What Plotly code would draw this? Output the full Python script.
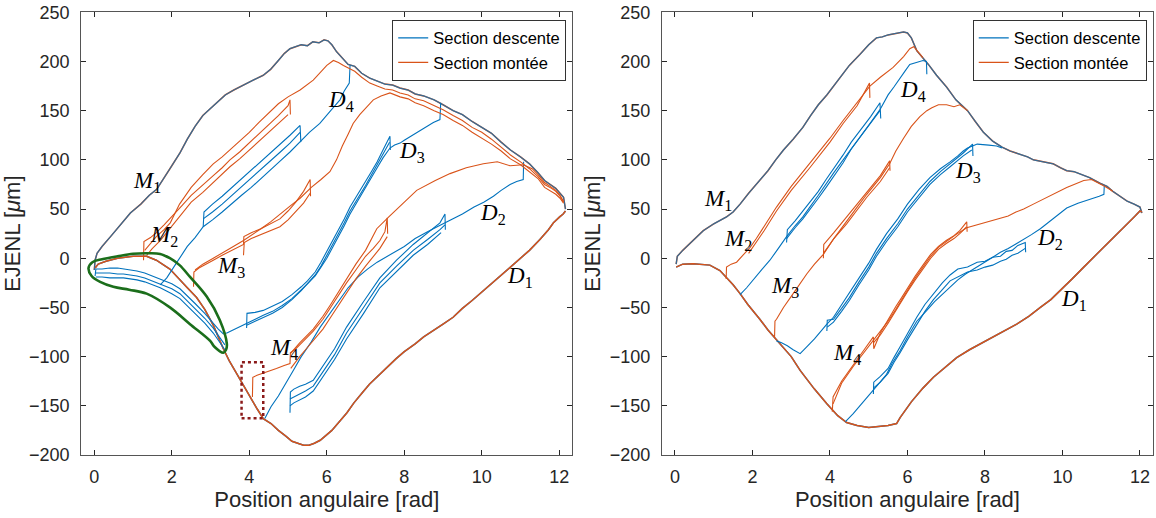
import plotly.graph_objects as go

# ---------------- LEFT PANEL DATA ----------------
L_UP_X = [0.0, 0.02, 0.07, 0.2, 0.44, 0.7, 0.93, 1.2, 1.42, 1.61, 1.81, 2.0, 2.21, 2.4, 2.6, 2.8, 2.99, 3.2, 3.38, 3.6, 3.87, 4.1, 4.36, 4.55, 4.75, 4.9, 5.05, 5.2, 5.34, 5.5, 5.64, 5.8, 5.93, 6.03, 6.13, 6.25, 6.42, 6.55, 6.72, 6.9, 7.11, 7.3, 7.5, 7.7, 7.89, 8.1, 8.28, 8.5, 8.77, 9.0, 9.26, 9.5, 9.75, 10.0, 10.25, 10.5, 10.74, 11.0, 11.23, 11.45, 11.62, 11.8, 11.91, 12.02, 12.11, 12.16]
L_UP_Y = [-12, -2, 5, 12, 23, 35, 46, 55, 64, 70, 83, 94, 107, 121, 134, 145, 152, 160, 166, 171, 176, 181, 186, 192, 201, 208, 213, 215, 217, 216, 220, 219, 222, 221, 217, 210, 203, 197, 195, 188, 183, 180, 177, 176, 173, 171, 167, 165, 161, 156, 150, 146, 139, 133, 127, 118, 110, 103, 96, 87, 79, 74, 71, 66, 62, 50]

L_LOW_X = [12.16, 12.1, 12.01, 11.85, 11.72, 11.5, 11.23, 11.0, 10.74, 10.5, 10.25, 10.0, 9.75, 9.5, 9.26, 9.0, 8.77, 8.5, 8.28, 8.0, 7.79, 7.55, 7.3, 7.1, 6.91, 6.7, 6.52, 6.3, 6.13, 5.98, 5.83, 5.68, 5.54, 5.4, 5.25, 5.1, 4.95, 4.75, 4.56, 4.36, 4.2, 4.07, 3.9, 3.77, 3.6, 3.48, 3.33, 3.2, 3.07, 2.85, 2.64, 2.4, 2.21, 1.95, 1.6, 1.35, 1.0, 0.6, 0.3, 0.1, 0.02]
L_LOW_Y = [48, 45, 42, 36, 29, 19, 8, 0, -9, -17, -26, -34, -43, -51, -60, -67, -73, -80, -87, -95, -102, -111, -120, -128, -137, -147, -157, -167, -175, -180, -185, -188, -190, -190, -188, -186, -181, -175, -168, -163, -153, -144, -133, -124, -112, -104, -92, -80, -68, -52, -40, -30, -22, -11, -2, 2, 2, 0, -3, -6, -10]

L_G1_X = [3.42, 3.33, 3.2, 3.07, 2.85, 2.6, 2.4, 2.21, 2.0, 1.7, 1.5, 1.3, 1.1, 0.92, 0.75, 0.6, 0.4, 0.2, 0.04, 0.02]
L_G1_Y = [-76, -77, -72, -66, -56, -46, -38, -31, -26, -21, -18, -15, -13, -12, -11, -10, -10, -11, -11, -18]
L_G2_X = [3.37, 3.2, 3.07, 2.85, 2.6, 2.4, 2.21, 2.0, 1.7, 1.5, 1.3, 1.1, 0.92, 0.75, 0.6, 0.4, 0.2, 0.04]
L_G2_Y = [-88, -78, -71, -61, -51, -43, -36, -31, -26, -23, -20, -18, -17, -16, -16, -15, -15, -15]
L_G3_X = [3.37, 3.2, 3.07, 2.85, 2.6, 2.4, 2.21, 2.0, 1.7, 1.5, 1.3, 1.1, 0.92, 0.75, 0.6, 0.4, 0.2, 0.04]
L_G3_Y = [-93, -83, -76, -66, -56, -48, -41, -36, -30, -27, -24, -22, -21, -20, -20, -20, -19, -19]

L_D4_X = [6.60, 6.58, 6.45, 6.34, 6.1, 5.82, 5.55, 5.31, 5.05, 4.8, 4.55, 4.28, 4.05, 3.8, 3.55, 3.3, 3.05, 2.81, 2.6, 2.4, 2.1, 1.87, 1.7]
L_D4_Y = [196, 178, 170, 161, 150, 137, 128, 118, 108, 99, 90, 81, 72, 64, 55, 47, 39, 32, 21, 12, -6, -20, -27]
L_D4A_X = [5.33, 5.31, 5.05, 4.8, 4.55, 4.28, 4.05, 3.8, 3.55, 3.3, 3.05, 2.83, 2.81]
L_D4A_Y = [118, 135, 125, 116, 107, 98, 89, 80, 71, 63, 55, 47, 32]
L_D4B_X = [5.31, 5.05, 4.8, 4.55, 4.28, 4.05, 3.8, 3.55, 3.3, 3.05, 2.81]
L_D4B_Y = [128, 117, 108, 99, 90, 81, 72, 63, 55, 47, 40]

L_M2A_X = [1.27, 1.28, 1.45, 1.6, 1.8, 2.0, 2.25, 2.5, 2.8, 3.07, 3.3, 3.5, 3.75, 4.0, 4.25, 4.5, 4.75, 5.0, 5.05, 5.06]
L_M2A_Y = [-2, 17, 21, 26, 34, 42, 53, 64, 74, 84, 92, 100, 108, 117, 126, 136, 145, 155, 161, 146]
L_M2B_X = [1.35, 1.5, 1.7, 2.0, 2.25, 2.5, 2.8, 3.07, 3.3, 3.5, 3.75, 4.0, 4.25, 4.5, 4.75, 5.0]
L_M2B_Y = [3, 10, 18, 33, 45, 57, 67, 77, 85, 93, 101, 110, 119, 128, 137, 146]
L_M2C_X = [1.3, 1.45, 1.6, 1.8, 1.96, 2.2, 2.5, 2.8, 3.07, 3.3, 3.5, 3.75, 4.0, 4.25, 4.5, 4.75, 5.0, 5.31, 5.65, 5.85, 6.0, 6.17, 6.3, 6.43, 6.72, 6.9, 7.11, 7.3, 7.5, 7.7, 7.89, 8.1, 8.28, 8.5, 8.77, 9.0, 9.26, 9.5, 9.75, 10.0, 10.25, 10.5, 10.74, 11.0, 11.23, 11.45, 11.62, 11.8, 11.91, 12.02, 12.11]
L_M2C_Y = [8, 15, 22, 29, 36, 55, 72, 85, 96, 103, 110, 119, 128, 138, 148, 157, 164, 171, 181, 190, 196, 201, 199, 196, 190, 184, 178, 175, 172, 171, 168, 166, 162, 160, 155, 151, 145, 140, 133, 128, 121, 113, 105, 98, 91, 83, 75, 71, 68, 63, 58]

L_M3A_X = [2.56, 2.57, 2.7, 2.8, 3.07, 3.3, 3.5, 3.7, 3.85, 3.86, 4.05, 4.3, 4.55, 4.79, 5.0, 5.2, 5.4, 5.57, 5.58]
L_M3A_Y = [-29, -14, -10, -8, -2, 3, 7, 11, 14, 22, 26, 30, 35, 40, 48, 57, 68, 80, 63]
L_M3B_X = [3.85, 3.87, 4.05, 4.3, 4.55, 4.79, 5.0, 5.2, 5.4, 5.57]
L_M3B_Y = [3, 16, 20, 24, 28, 32, 39, 47, 56, 66]
L_M3C_X = [2.6, 2.8, 3.07, 3.3, 3.5, 3.85, 4.05, 4.3, 4.55, 4.79, 5.05, 5.31, 5.6, 5.85, 6.08, 6.25, 6.4, 6.55, 6.68, 6.85, 7.0, 7.2, 7.4, 7.63, 7.89, 8.1, 8.28, 8.5, 8.77, 9.0, 9.26, 9.5, 9.75, 10.0, 10.25, 10.5, 10.74, 11.0, 11.23, 11.45, 11.62, 11.8, 11.91, 12.02, 12.11]
L_M3C_Y = [-12, -6, 0, 5, 10, 18, 23, 30, 37, 45, 53, 61, 72, 80, 88, 100, 114, 126, 137, 146, 152, 161, 165, 168, 164, 162, 158, 155, 150, 146, 140, 135, 128, 122, 116, 109, 101, 95, 88, 81, 72, 68, 65, 61, 56]

L_M4A_X = [4.08, 4.09, 4.2, 4.36, 4.55, 4.7, 4.9, 5.05, 5.06, 5.2, 5.3, 5.45, 5.65, 5.9, 6.1, 6.3, 6.51, 6.75, 7.0, 7.2, 7.37, 7.5, 7.56, 7.57]
L_M4A_Y = [-141, -121, -119, -117, -114, -112, -109, -107, -96, -92, -88, -82, -74, -62, -50, -38, -25, -12, 2, 10, 18, 27, 41, 25]
L_M4B_X = [5.07, 5.2, 5.3, 5.45, 5.65, 5.9, 6.1, 6.3, 6.51, 6.75, 7.0, 7.2, 7.37, 7.56]
L_M4B_Y = [-112, -105, -100, -93, -84, -72, -60, -48, -35, -21, -8, 2, 10, 22]
L_M4C_X = [5.06, 5.3, 5.65, 5.9, 6.1, 6.3, 6.51, 6.75, 7.0, 7.29, 7.6, 8.0, 8.32, 8.8, 9.18, 9.6, 10.04, 10.4, 10.73, 11.07, 11.3, 11.45, 11.62, 11.8, 11.91, 12.02, 12.11]
L_M4C_Y = [-97, -86, -72, -59, -47, -34, -21, -6, 8, 30, 42, 57, 69, 79, 86, 92, 96, 98, 94, 95, 91, 85, 77, 72, 69, 64, 57]

L_D3_X = [8.94, 8.92, 8.75, 8.58, 8.4, 8.2, 8.0, 7.89, 7.75, 7.63, 7.45, 7.3, 7.15, 7.0, 6.8, 6.6, 6.45, 6.3, 6.15, 6.0, 5.85, 5.7, 5.5, 5.34, 5.1, 4.85, 4.6, 4.36, 4.1, 3.87, 3.65, 3.42]
L_D3_Y = [158, 141, 138, 134, 130, 125, 120, 117, 115, 112, 102, 92, 82, 72, 58, 45, 33, 22, 11, 0, -9, -18, -26, -32, -41, -48, -54, -58, -63, -67, -71, -76]
L_D3A_X = [7.64, 7.63, 7.45, 7.3, 7.15, 7.0, 6.8, 6.6, 6.45, 6.3, 6.15, 6.0, 5.85, 5.7, 5.5, 5.34, 5.1, 4.85, 4.6, 4.36, 4.15, 3.94, 3.93]
L_D3A_Y = [110, 124, 110, 98, 88, 78, 65, 52, 40, 29, 17, 6, -4, -14, -23, -29, -37, -44, -49, -53, -55, -56, -71]
L_D3B_X = [7.62, 7.45, 7.3, 7.15, 7.0, 6.8, 6.6, 6.45, 6.3, 6.15, 6.0, 5.85, 5.7, 5.5, 5.34, 5.1, 4.85, 4.6, 4.36, 4.15, 3.93]
L_D3B_Y = [118, 106, 94, 84, 74, 61, 48, 36, 25, 13, 2, -8, -17, -26, -33, -42, -50, -56, -60, -64, -68]

L_D2_X = [11.08, 11.07, 10.9, 10.73, 10.5, 10.3, 10.05, 9.8, 9.5, 9.18, 8.9, 8.6, 8.28, 8.0, 7.65, 7.3, 7.05, 6.81, 6.55, 6.32, 6.1, 5.83, 5.6, 5.34, 5.15, 4.95, 4.75, 4.56, 4.4]
L_D2_Y = [98, 80, 78, 75, 69, 63, 57, 52, 45, 39, 33, 27, 20, 12, 4, -4, -11, -19, -30, -43, -56, -70, -85, -100, -113, -127, -140, -151, -163]
L_D2A_X = [9.06, 9.05, 8.92, 8.6, 8.23, 7.8, 7.37, 6.95, 6.51, 6.2, 5.9, 5.65, 5.45, 5.3, 5.15, 5.06, 5.05]
L_D2A_Y = [29, 45, 36, 26, 14, -2, -20, -44, -70, -92, -110, -124, -128, -130, -133, -136, -157]
L_D2B_X = [9.05, 8.92, 8.6, 8.23, 7.8, 7.37, 6.95, 6.51, 6.2, 5.9, 5.65, 5.45, 5.3, 5.15, 5.05]
L_D2B_Y = [34, 29, 19, 8, -8, -25, -50, -76, -98, -116, -130, -135, -138, -141, -143]
L_D2C_X = [8.95, 8.6, 8.23, 7.8, 7.37, 6.95, 6.51, 6.2, 5.9, 5.65, 5.45, 5.3, 5.15, 5.05]
L_D2C_Y = [26, 14, 3, -13, -30, -56, -82, -103, -121, -135, -141, -144, -147, -150]

# highlight marks (left panel)
GREEN_X = [-0.15, -0.05, 0.2, 0.6, 1.0, 1.35, 1.7, 1.95, 2.2, 2.47, 2.9, 3.24, 3.42, 3.4, 3.33, 3.1, 2.99, 2.47, 1.95, 1.35, 0.9, 0.49, 0.15, -0.07, -0.15]
GREEN_Y = [-10, -4, -1, 2, 4.5, 5, 4.4, 0, -7, -19, -39, -63, -87, -93, -96, -90, -84, -67, -50, -36, -32, -29, -24, -18, -10]
RECT_X = [3.80, 4.36]
RECT_Y = [-162.6, -105.7]

L_LAB_TXT = ["M", "M", "M", "M", "D", "D", "D", "D"]
L_LAB_SUB = ["1", "2", "3", "4", "4", "3", "2", "1"]
L_LAB_X = [1.37, 1.81, 3.53, 4.90, 6.37, 8.19, 10.29, 10.98]
L_LAB_Y = [77, 23, -9, -92, 160, 108, 45, -19]

# ---------------- RIGHT PANEL DATA ----------------
R_UP_X = [0.03, 0.06, 0.2, 0.47, 0.73, 1.0, 1.15, 1.33, 1.5, 1.68, 1.9, 2.19, 2.4, 2.6, 2.8, 3.05, 3.3, 3.5, 3.7, 3.92, 4.1, 4.3, 4.5, 4.77, 5.0, 5.2, 5.35, 5.5, 5.65, 5.81, 5.9, 6.0, 6.1, 6.24, 6.4, 6.54, 6.75, 7.01, 7.25, 7.55, 7.75, 7.96, 8.2, 8.44, 8.65, 8.9, 9.1, 9.25, 9.5, 9.76, 9.95, 10.11, 10.3, 10.45, 10.7, 10.98, 11.15, 11.3, 11.5, 11.67, 11.85, 12.0, 12.05]
R_UP_Y = [-6, 2, 8, 18, 28, 35, 38, 42, 47, 55, 66, 79, 89, 100, 110, 121, 133, 145, 156, 166, 175, 186, 196, 207, 217, 224, 225, 227, 228, 229, 230, 229, 224, 211, 204, 197, 186, 174, 161, 150, 139, 128, 119, 113, 109, 106, 103, 100, 98, 96, 92, 89, 88, 86, 82, 76, 73, 68, 63, 58, 55, 52, 46]

R_LOW_X = [12.05, 12.0, 11.85, 11.67, 11.4, 11.15, 10.85, 10.55, 10.25, 9.94, 9.7, 9.43, 9.13, 8.82, 8.4, 7.96, 7.6, 7.27, 7.0, 6.67, 6.4, 6.1, 5.81, 5.72, 5.5, 5.3, 5.0, 4.7, 4.43, 4.2, 3.92, 3.6, 3.23, 3.0, 2.62, 2.4, 2.19, 1.88, 1.68, 1.5, 1.16, 0.9, 0.47, 0.2, 0.03]
R_LOW_Y = [47, 48, 42, 35, 25, 15, 3, -9, -21, -33, -42, -50, -59, -67, -76, -85, -93, -101, -110, -121, -132, -146, -162, -168, -170, -171, -172, -170, -167, -160, -148, -133, -114, -100, -83, -73, -62, -47, -36, -27, -12.5, -7, -5.7, -6, -9]

R_M2_X = [1.32, 1.33, 1.45, 1.59, 1.75, 1.94, 2.1, 2.3, 2.62, 3.0, 3.48, 4.0, 4.34, 4.7, 5.03, 5.3, 5.63, 5.9, 6.06, 6.16, 6.3, 6.4]
R_M2_Y = [-21, -9, -6, -4, 3, 11, 20, 32, 52, 73, 96, 122, 140, 158, 175, 184, 194, 205, 213, 215, 209, 204]
R_M2B_X = [1.9, 2.1, 2.3, 2.62, 3.0, 3.48, 4.0, 4.34, 4.7, 5.02, 5.03]
R_M2B_Y = [5, 16, 28, 48, 69, 92, 118, 137, 155, 178, 163]

R_D4_X = [6.5, 6.49, 6.4, 6.32, 6.2, 6.06, 5.95, 5.8, 5.65, 5.5, 5.29, 5.05, 4.8, 4.55, 4.34, 4.1, 3.9, 3.7, 3.48, 3.3, 3.1, 2.88, 2.65, 2.45, 2.25, 2.02, 1.85, 1.68]
R_D4_Y = [187, 200, 201, 200, 199, 197, 191, 182, 174, 166, 151, 138, 125, 112, 100, 87, 75, 64, 52, 42, 33, 22, 9, -2, -11, -22, -30, -37]
R_D4A_X = [5.31, 5.29, 5.05, 4.8, 4.55, 4.34, 4.1, 3.9, 3.7, 3.48, 3.3, 3.1, 2.9, 2.88]
R_D4A_Y = [142, 158, 144, 131, 118, 105, 92, 80, 68, 57, 47, 38, 29, 16]
R_D4B_X = [5.29, 5.05, 4.8, 4.55, 4.34, 4.1, 3.9, 3.7, 3.48, 3.3, 3.1, 2.88]
R_D4B_Y = [150, 137, 124, 111, 97, 84, 72, 61, 49, 40, 31, 20]

R_M3_X = [2.57, 2.58, 2.62, 2.8, 3.05, 3.2, 3.4, 3.6, 3.83, 4.1, 4.43, 4.7, 4.95, 5.3, 5.54, 5.7, 5.9, 6.1, 6.32, 6.5, 6.63, 6.8, 7.01, 7.2, 7.35, 7.55]
R_M3_Y = [-80, -64, -62, -50, -36, -27, -16, -6, 4, 20, 38, 52, 65, 82, 96, 109, 122, 134, 144, 150, 153, 156, 156, 154, 156, 150]
R_M3A_X = [3.83, 3.84, 4.1, 4.43, 4.7, 4.95, 5.3, 5.54, 5.55]
R_M3A_Y = [0, 14, 26, 42, 55, 68, 84, 99, 89]
R_M3B_X = [3.83, 4.1, 4.43, 4.7, 4.95, 5.3, 5.54]
R_M3B_Y = [5, 20, 35, 49, 62, 78, 92]

R_D3_X = [8.44, 8.3, 8.1, 7.9, 7.8, 7.68, 7.55, 7.44, 7.3, 7.1, 6.85, 6.58, 6.3, 6.0, 5.75, 5.46, 5.2, 5.0, 4.75, 4.5, 4.3, 4.09, 3.92, 3.75, 3.6, 3.4, 3.23, 3.05, 2.9, 2.75, 2.62]
R_D3_Y = [112, 114, 115, 116, 116, 114, 112, 109, 104, 98, 91, 82, 70, 55, 40, 25, 9, -5, -20, -36, -48, -60, -67, -75, -82, -90, -97, -93, -89, -86, -84]
R_D3A_X = [7.69, 7.68, 7.44, 7.1, 6.85, 6.58, 6.3, 6.0, 5.75, 5.46, 5.2, 5.0, 4.75, 4.5, 4.3, 4.09, 3.93, 3.92]
R_D3A_Y = [104, 116, 107, 96, 88, 78, 65, 50, 35, 20, 5, -9, -24, -40, -51, -62, -63, -74]
R_D3B_X = [7.66, 7.44, 7.1, 6.85, 6.58, 6.3, 6.0, 5.75, 5.46, 5.2, 5.0, 4.75, 4.5, 4.3, 4.09, 3.93]
R_D3B_Y = [110, 104, 93, 85, 75, 62, 47, 32, 17, 2, -12, -27, -43, -54, -65, -70]

R_M4A_X = [4.06, 4.08, 4.3, 4.6, 4.9, 5.12, 5.13, 5.3, 5.5, 5.7, 5.85, 6.0, 6.2, 6.4, 6.6, 6.8, 7.0, 7.2, 7.35, 7.53, 7.54]
R_M4A_Y = [-156, -141, -125, -108, -92, -80, -92, -76, -62, -49, -40, -30, -18, -7, 4, 12, 18, 23, 28, 37, 27]
R_M4B_X = [5.12, 5.3, 5.5, 5.7, 5.85, 6.0, 6.2, 6.4, 6.6, 6.8, 7.0, 7.2, 7.35, 7.53]
R_M4B_Y = [-86, -78, -66, -53, -44, -34, -22, -11, 0, 9, 15, 20, 25, 32]
R_M4C_X = [4.08, 4.3, 4.6, 4.9, 5.12, 5.3, 5.5, 5.7, 5.85, 6.0, 6.2, 6.4, 6.6, 6.8, 7.0, 7.25, 7.53, 7.8, 8.0, 8.2, 8.4, 8.6, 8.8, 9.0, 9.25, 9.5, 9.7, 9.9, 10.11, 10.3, 10.55, 10.75, 10.9, 11.1, 11.3]
R_M4C_Y = [-148, -127, -110, -95, -84, -75, -64, -52, -42, -32, -20, -9, 2, 11, 17, 24, 31, 34, 36, 38, 40, 43, 47, 50, 55, 60, 64, 68, 72, 75, 79, 80, 77, 73, 68]

R_D2_X = [11.08, 11.07, 10.95, 10.8, 10.6, 10.4, 10.11, 9.95, 9.76, 9.6, 9.43, 9.2, 9.0, 8.82, 8.6, 8.4, 8.2, 7.96, 7.75, 7.5, 7.3, 7.1, 6.9, 6.7, 6.5, 6.24, 6.0, 5.81, 5.6, 5.46, 5.25, 5.03, 4.8, 4.6, 4.4]
R_D2_Y = [74, 65, 63, 61, 58, 56, 51, 46, 40, 35, 30, 24, 19, 15, 10, 6, 1, -5, -10, -16, -22, -29, -36, -44, -53, -64, -80, -94, -107, -118, -128, -138, -149, -158, -166]
R_D2A_X = [9.05, 9.04, 8.85, 8.7, 8.55, 8.4, 8.2, 8.0, 7.8, 7.55, 7.3, 7.1, 6.9, 6.67, 6.45, 6.24, 6.0, 5.81, 5.65, 5.5, 5.3, 5.13, 5.12]
R_D2A_Y = [6, 16, 13, 8, 7, 2, 1, -3, -4, -9, -11, -17, -25, -36, -47, -60, -76, -90, -101, -112, -120, -126, -138]
R_D2B_X = [9.04, 8.85, 8.7, 8.55, 8.4, 8.2, 8.0, 7.8, 7.55, 7.3, 7.1, 6.9, 6.67, 6.45, 6.24, 6.0, 5.81, 5.65, 5.5, 5.3, 5.12]
R_D2B_Y = [10, 5, 3, -1, -3, -7, -9, -12, -14, -19, -23, -32, -42, -54, -67, -83, -96, -106, -117, -126, -132]

R_LAB_TXT = ["M", "M", "M", "M", "D", "D", "D", "D"]
R_LAB_SUB = ["1", "2", "3", "4", "4", "3", "2", "1"]
R_LAB_X = [1.12, 1.62, 2.84, 4.45, 6.13, 7.55, 9.68, 10.3]
R_LAB_Y = [59, 19, -29, -97, 170, 88, 20, -42]

X_TICKS = [0, 2, 4, 6, 8, 10, 12]
Y_TICKS = [-200, -150, -100, -50, 0, 50, 100, 150, 200, 250]
X_TITLE = "Position angulaire [rad]"
Y_TITLE = "EJENL [<i>μ</i>m]"
LEGEND_NAMES = ["Section descente", "Section montée"]

# ---------------- STYLE ----------------
BLUE = "#0072BD"
ORANGE = "#D95319"
LW = 1.1
FONT = "Liberation Sans, Arial, sans-serif"
SERIF = "Liberation Serif, Times New Roman, serif"

fig = go.Figure()


def line(x, y, color, panel, width=LW, opacity=1.0):
    xa, ya = ("x", "y") if panel == 1 else ("x2", "y2")
    fig.add_trace(go.Scatter(x=x, y=y, mode="lines", xaxis=xa, yaxis=ya,
                             line=dict(color=color, width=width),
                             opacity=opacity, showlegend=False, hoverinfo="skip"))


# legend entries
for leg, xa, ya in (("legend", "x", "y"), ("legend2", "x2", "y2")):
    for name, col in zip(LEGEND_NAMES, [BLUE, ORANGE]):
        fig.add_trace(go.Scatter(x=[None], y=[None], mode="lines", name=name,
                                 line=dict(color=col, width=1.3), legend=leg,
                                 xaxis=xa, yaxis=ya))

# ---- left panel curves ----
line(L_UP_X, L_UP_Y, ORANGE, 1, 1.5)
line(L_UP_X, L_UP_Y, BLUE, 1, 1.3, 0.75)
line(L_LOW_X, L_LOW_Y, BLUE, 1, 1.5)
line(L_LOW_X, L_LOW_Y, ORANGE, 1, 1.5)
for gx, gy in ((L_G1_X, L_G1_Y), (L_G2_X, L_G2_Y), (L_G3_X, L_G3_Y)):
    line(gx, gy, BLUE, 1)
for cx, cy in ((L_D4_X, L_D4_Y), (L_D4A_X, L_D4A_Y), (L_D4B_X, L_D4B_Y),
               (L_D3_X, L_D3_Y), (L_D3A_X, L_D3A_Y), (L_D3B_X, L_D3B_Y),
               (L_D2_X, L_D2_Y), (L_D2A_X, L_D2A_Y), (L_D2B_X, L_D2B_Y), (L_D2C_X, L_D2C_Y)):
    line(cx, cy, BLUE, 1)
for cx, cy in ((L_M2A_X, L_M2A_Y), (L_M2B_X, L_M2B_Y), (L_M2C_X, L_M2C_Y),
               (L_M3A_X, L_M3A_Y), (L_M3B_X, L_M3B_Y), (L_M3C_X, L_M3C_Y),
               (L_M4A_X, L_M4A_Y), (L_M4B_X, L_M4B_Y), (L_M4C_X, L_M4C_Y)):
    line(cx, cy, ORANGE, 1)

# green highlight loop
fig.add_trace(go.Scatter(x=GREEN_X, y=GREEN_Y, mode="lines", xaxis="x", yaxis="y",
                         line=dict(color="#1B6E1B", width=2.6, shape="spline", smoothing=1.0),
                         showlegend=False, hoverinfo="skip"))

# ---- right panel curves ----
line(R_UP_X, R_UP_Y, ORANGE, 2, 1.5)
line(R_UP_X, R_UP_Y, BLUE, 2, 1.3, 0.75)
line(R_LOW_X, R_LOW_Y, BLUE, 2, 1.5)
line(R_LOW_X, R_LOW_Y, ORANGE, 2, 1.5)
for cx, cy in ((R_D4_X, R_D4_Y), (R_D4A_X, R_D4A_Y), (R_D4B_X, R_D4B_Y),
               (R_D3_X, R_D3_Y), (R_D3A_X, R_D3A_Y), (R_D3B_X, R_D3B_Y),
               (R_D2_X, R_D2_Y), (R_D2A_X, R_D2A_Y), (R_D2B_X, R_D2B_Y)):
    line(cx, cy, BLUE, 2)
for cx, cy in ((R_M2_X, R_M2_Y), (R_M2B_X, R_M2B_Y),
               (R_M3_X, R_M3_Y), (R_M3A_X, R_M3A_Y), (R_M3B_X, R_M3B_Y),
               (R_M4A_X, R_M4A_Y), (R_M4B_X, R_M4B_Y), (R_M4C_X, R_M4C_Y)):
    line(cx, cy, ORANGE, 2)

# ---- labels ----
anns = []
for txt, sub, lx, ly in zip(L_LAB_TXT, L_LAB_SUB, L_LAB_X, L_LAB_Y):
    anns.append(dict(x=lx, y=ly, xref="x", yref="y", showarrow=False,
                     text=f"<i>{txt}</i><sub>{sub}</sub>",
                     font=dict(family=SERIF, size=23, color="black")))
for txt, sub, lx, ly in zip(R_LAB_TXT, R_LAB_SUB, R_LAB_X, R_LAB_Y):
    anns.append(dict(x=lx, y=ly, xref="x2", yref="y2", showarrow=False,
                     text=f"<i>{txt}</i><sub>{sub}</sub>",
                     font=dict(family=SERIF, size=23, color="black")))

AX_COL = "#262626"
xa_common = dict(range=[-0.34, 12.34], tickvals=X_TICKS, ticks="inside", ticklen=5,
                 tickcolor=AX_COL, showline=True, linecolor="#555555", linewidth=1,
                 mirror="ticks", showgrid=False, zeroline=False, automargin=False,
                 ticklabelstandoff=5,
                 tickfont=dict(family=FONT, size=18, color=AX_COL),
                 title=dict(text=X_TITLE, font=dict(family=FONT, size=22, color=AX_COL), standoff=2))
ya_common = dict(range=[-200, 250], tickvals=Y_TICKS, ticks="inside", ticklen=5,
                 tickcolor=AX_COL, showline=True, linecolor="#555555", linewidth=1,
                 mirror="ticks", showgrid=False, zeroline=False, automargin=False,
                 ticklabelstandoff=7,
                 tickfont=dict(family=FONT, size=18, color=AX_COL),
                 title=dict(text=Y_TITLE, font=dict(family=FONT, size=22, color=AX_COL), standoff=2))

leg_common = dict(bgcolor="white", bordercolor="#333333", borderwidth=1,
                  font=dict(family=FONT, size=16.5, color="black"),
                  xanchor="right", yanchor="top", y=0.962, tracegroupgap=0,
                  itemwidth=30)

fig.update_layout(
    width=1156, height=518,
    margin=dict(l=0, r=0, t=0, b=0),
    paper_bgcolor="white", plot_bgcolor="white",
    xaxis=dict(domain=[0.0702, 0.4952], anchor="y", **xa_common),
    yaxis=dict(domain=[0.1216, 0.9763], anchor="x", **ya_common),
    xaxis2=dict(domain=[0.5725, 0.9975], anchor="y2", **xa_common),
    yaxis2=dict(domain=[0.1216, 0.9763], anchor="x2", **ya_common),
    legend=dict(x=0.4898, **leg_common),
    legend2=dict(x=0.9920, **leg_common),
    annotations=anns,
    shapes=[dict(type="rect", xref="x", yref="y", x0=RECT_X[0], x1=RECT_X[1],
                 y0=RECT_Y[0], y1=RECT_Y[1],
                 line=dict(color="#8B1A1A", width=2.5, dash="dot"))],
)

fig.write_html("out.html")
